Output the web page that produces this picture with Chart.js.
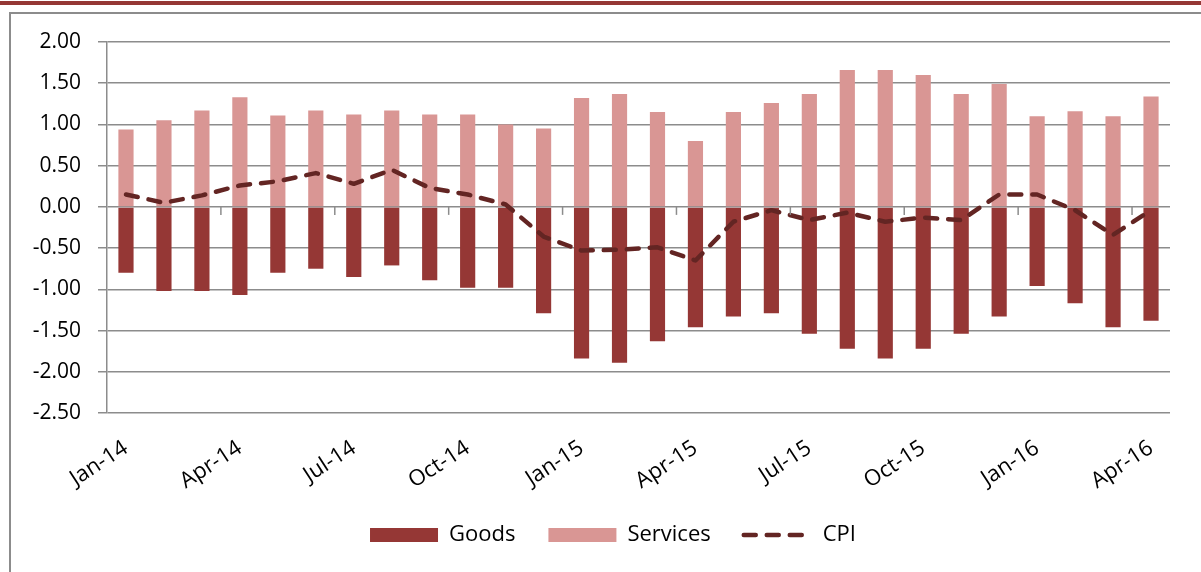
<!DOCTYPE html>
<html>
<head>
<meta charset="utf-8">
<script src="https://cdn.jsdelivr.net/npm/chart.js@4/dist/chart.umd.min.js"></script>
<style>
  html, body { margin: 0; padding: 0; background: #fff; }
  #wrap { position: relative; width: 1201px; height: 572px; overflow: hidden; }
  #topbar { position: absolute; left: 0; top: 1px; width: 1201px; height: 4px; background: #953735; }
  #frame { position: absolute; left: 9px; top: 12px; width: 1300px; height: 700px;
           border-left: 2px solid #8c8c8c; border-top: 2px solid #8c8c8c; }
  #c { position: absolute; left: 0; top: 0; }
</style>
</head>
<body>
<div id="wrap">
  <div id="topbar"></div>
  <div id="frame"></div>
  <canvas id="c" width="1201" height="572"></canvas>
</div>
<script>
const months = ['Jan-14','Feb-14','Mar-14','Apr-14','May-14','Jun-14','Jul-14','Aug-14','Sep-14','Oct-14','Nov-14','Dec-14',
                'Jan-15','Feb-15','Mar-15','Apr-15','May-15','Jun-15','Jul-15','Aug-15','Sep-15','Oct-15','Nov-15','Dec-15',
                'Jan-16','Feb-16','Mar-16','Apr-16'];
const goods = [-0.80,-1.02,-1.02,-1.07,-0.80,-0.75,-0.85,-0.71,-0.89,-0.98,-0.98,-1.29,
               -1.84,-1.89,-1.63,-1.46,-1.33,-1.29,-1.54,-1.72,-1.84,-1.72,-1.54,-1.33,
               -0.96,-1.17,-1.46,-1.38];
const services = [0.94,1.05,1.17,1.33,1.11,1.17,1.12,1.17,1.12,1.12,1.00,0.95,
                  1.32,1.37,1.15,0.80,1.15,1.26,1.37,1.66,1.66,1.60,1.37,1.49,
                  1.10,1.16,1.10,1.34];
const cpi = [0.15,0.05,0.14,0.26,0.31,0.41,0.28,0.45,0.23,0.15,0.03,-0.36,
             -0.53,-0.52,-0.49,-0.65,-0.18,-0.04,-0.16,-0.07,-0.18,-0.13,-0.16,0.15,
             0.15,-0.04,-0.34,-0.04];
const yTicks = [-2.5, -2.0, -1.5, -1.0, -0.5, 0, 0.5, 1.0, 1.5, 2.0];

const GOODS_COLOR = '#953735';
const SERV_COLOR = '#D99694';
const CPI_COLOR = '#632523';
const GRID = '#8c8c8c';
const FONT = "'Open Sans', 'DejaVu Sans', sans-serif";

const zeroTicks = {
  id: 'zeroTicks',
  afterDatasetsDraw(chart) {
    const x = chart.scales.x, y = chart.scales.y;
    const y0 = y.getPixelForValue(0);
    const ctx = chart.ctx;
    ctx.save();
    ctx.strokeStyle = GRID;
    ctx.lineWidth = 1.5;
    for (let k = 3; k < months.length; k += 3) {
      const px = (x.getPixelForValue(k - 1) + x.getPixelForValue(k)) / 2;
      ctx.beginPath();
      ctx.moveTo(px, y0);
      ctx.lineTo(px, y0 + 8);
      ctx.stroke();
    }
    ctx.restore();
  }
};

new Chart(document.getElementById('c'), {
  data: {
    labels: months,
    datasets: [
      { type: 'bar', label: 'Goods', data: goods, backgroundColor: GOODS_COLOR, borderWidth: 0,
        stack: 'bars', order: 1, barPercentage: 0.4, categoryPercentage: 1.0 },
      { type: 'bar', label: 'Services', data: services, backgroundColor: SERV_COLOR, borderWidth: 0,
        stack: 'bars', order: 1, barPercentage: 0.4, categoryPercentage: 1.0 },
      { type: 'line', label: 'CPI', data: cpi, borderColor: CPI_COLOR, backgroundColor: CPI_COLOR,
        borderWidth: 4.5, borderDash: [12, 11], borderCapStyle: 'round', borderJoinStyle: 'round',
        pointRadius: 0, tension: 0, fill: false, stack: 'line', order: 0 }
    ]
  },
  options: {
    responsive: false,
    animation: false,
    layout: { padding: { left: 25, right: 0, top: 42, bottom: 16 } },
    plugins: {
      tooltip: { enabled: false },
      legend: {
        position: 'bottom',
        labels: {
          font: { family: FONT, size: 22 },
          color: '#000',
          padding: 33,
          boxWidth: 68,
          boxHeight: 14,
          usePointStyle: true,
          pointStyleWidth: 68,
          generateLabels(chart) {
            const items = Chart.defaults.plugins.legend.labels.generateLabels(chart);
            items.sort((a, b) => a.datasetIndex - b.datasetIndex);
            items.forEach(it => {
              if (it.datasetIndex === 2) {
                it.pointStyle = 'line';
                it.lineWidth = 4.5;
                it.lineDash = [12, 11];
                it.lineCap = 'round';
                it.strokeStyle = CPI_COLOR;
              } else {
                it.pointStyle = 'rect';
                it.lineWidth = 0;
              }
            });
            return items;
          }
        }
      }
    },
    scales: {
      x: {
        stacked: true,
        offset: true,
        grid: { display: false, drawTicks: false },
        border: { display: false },
        afterFit(scale) { scale.height = 78; },
        ticks: {
          autoSkip: false,
          minRotation: 33,
          maxRotation: 33,
          padding: 22,
          color: '#000',
          font: { family: FONT, size: 22 },
          callback: function (v, i) { return i % 3 === 0 ? this.getLabelForValue(v) : ''; }
        }
      },
      y: {
        stacked: true,
        min: -2.5,
        max: 2.0,
        afterFit(scale) { scale.width = 82; },
        afterBuildTicks(scale) { scale.ticks = yTicks.map(v => ({ value: v })); },
        grid: { color: GRID, lineWidth: 1.5, drawTicks: true, tickLength: 9, tickColor: GRID },
        border: { display: true, color: GRID, width: 1.5 },
        ticks: {
          padding: 17,
          color: '#000',
          font: { family: FONT, size: 21 },
          callback: v => Number(v).toFixed(2)
        }
      },
      yRight: {
        type: 'linear',
        position: 'right',
        display: true,
        grid: { display: false, drawTicks: false },
        border: { display: false },
        ticks: { display: false },
        afterFit(scale) { scale.width = 31; }
      }
    }
  },
  plugins: [zeroTicks]
});
</script>
</body>
</html>
